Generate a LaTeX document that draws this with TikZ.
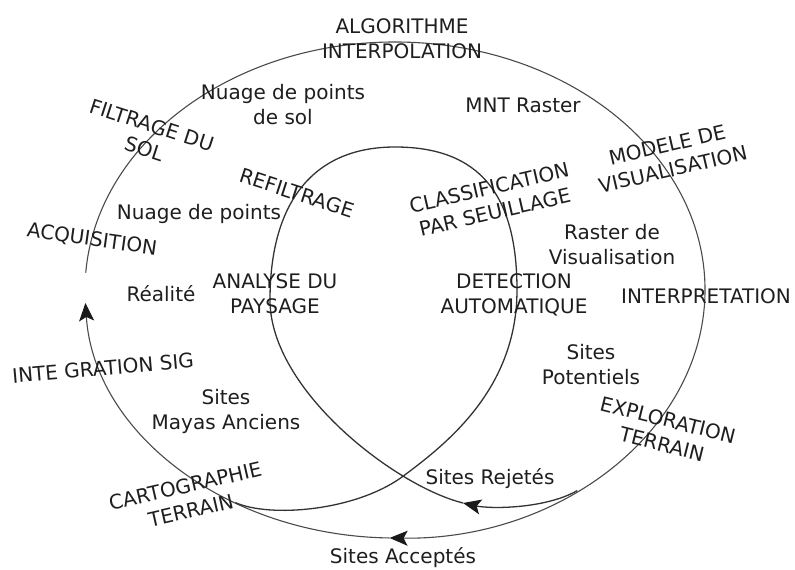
\documentclass[tikz,border=0pt]{standalone}
\usepackage{fontspec}
\setmainfont{DejaVu Sans}
\usetikzlibrary{arrows.meta}
\definecolor{txt}{HTML}{1E1E1E}
\definecolor{linegray}{HTML}{4A4A4A}
\definecolor{linedark}{HTML}{333333}
\definecolor{tipcol}{HTML}{1A1A1A}
\begin{document}
\begin{tikzpicture}[x=1pt,y=-1pt,
  lbl/.style={font=\fontsize{20}{25}\selectfont, text=txt, inner sep=0pt, align=center},
  outerline/.style={draw=linegray, line width=1.1pt},
  innerline/.style={draw=linedark, line width=1.3pt},
  tipend/.style={-{Stealth[length=18pt,width=15pt,inset=4pt,color=tipcol]}}]
\useasboundingbox (0,0) rectangle (795,570);
\coordinate (c) at (395,290);
% outer spiral
\coordinate (o0) at ([shift={(184:310 and 248)}]c);
\coordinate (o1) at ([shift={(451:310 and 248)}]c);
\draw[outerline, tipend] (o0) arc[start angle=184, end angle=451, x radius=310, y radius=248];
\draw[outerline, tipend] (o1) arc[start angle=451, end angle=537, x radius=310, y radius=248];
% inner loop
\coordinate (j1) at ([shift={(54:310 and 248)}]c);
\coordinate (j2) at ([shift={(121:310 and 248)}]c);
\coordinate (rej) at (463,503);
\coordinate (lft) at (270,300);
\coordinate (top) at (395,147);
\coordinate (rgt) at (517,290);
\coordinate (cross) at (402,477);
\draw[innerline, tipend] (j1) .. controls (545,509) and (490,509) .. (rej);
\draw[innerline] (rej) .. controls (395,486) and (270,390) .. (lft)
  .. controls (270,200) and (315,147) .. (top)
  .. controls (480,147) and (517,195) .. (rgt)
  .. controls (517,390) and (445,445) .. (cross)
  .. controls (355,511) and (270,518) .. (j2);
% labels
\node[lbl] (algo) at (402,39) {ALGORITHME\\INTERPOLATION};
\node[lbl] (nps) at (283,105) {Nuage de points\\de sol};
\node[lbl, rotate=-18] (filt) at (148,137) {FILTRAGE DU\\SOL};
\node[lbl] (mnt) at (523,105) {MNT Raster};
\node[lbl, rotate=13] (modele) at (670,157) {MODELE DE\\VISUALISATION};
\node[lbl, rotate=-18] (refilt) at (297,193) {REFILTRAGE};
\node[lbl, rotate=13] (classif) at (492,200) {CLASSIFICATION\\PAR SEUILLAGE};
\node[lbl] (np) at (199,214) {Nuage de points};
\node[lbl, rotate=-8] (acq) at (92,240) {ACQUISITION};
\node[lbl] (rv) at (612,245) {Raster de\\Visualisation};
\node[lbl] (real) at (161,294) {Réalité};
\node[lbl] (analyse) at (275,294) {ANALYSE DU\\PAYSAGE};
\node[lbl] (detect) at (514,295) {DETECTION\\AUTOMATIQUE};
\node[lbl] (interp) at (706,296) {INTERPRETATION};
\node[lbl] (sp) at (591,365) {Sites\\Potentiels};
\node[lbl, rotate=5] (sig) at (103,368) {INTE GRATION SIG};
\node[lbl] (smaya) at (226,411) {Sites\\Mayas Anciens};
\node[lbl, rotate=-14] (explo) at (665,432) {EXPLORATION\\TERRAIN};
\node[lbl] (srej) at (490,479) {Sites Rejetés};
\node[lbl, rotate=13] (carto) at (188,498) {CARTOGRAPHIE\\TERRAIN};
\node[lbl] (sacc) at (403,558) {Sites Acceptés};
\end{tikzpicture}
\end{document}
